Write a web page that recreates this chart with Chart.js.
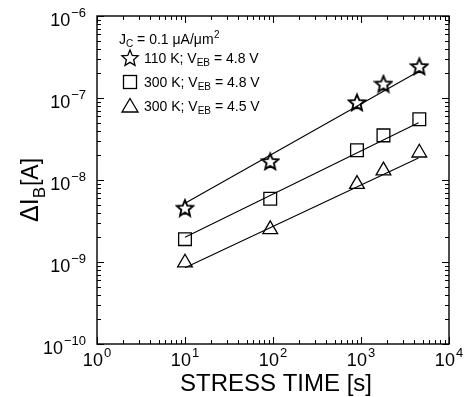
<!DOCTYPE html>
<html>
<head>
<meta charset="utf-8">
<script src="https://cdn.jsdelivr.net/npm/chart.js@4/dist/chart.umd.min.js"></script>
<style>
html,body{margin:0;padding:0;background:#fff;}
#wrap{width:467px;height:397px;position:relative;}
</style>
</head>
<body>
<div id="wrap"><canvas id="c" width="467" height="397"></canvas></div>
<script>
// ---- data ----
const stressTime = [10, 93, 900, 1800, 4600];
const star110K_48V = [4.6e-9, 1.7e-8, 8.9e-8, 1.5e-7, 2.45e-7];
const sq300K_48V = [1.9e-9, 5.9e-9, 2.3e-8, 3.5e-8, 5.5e-8];
const tri300K_45V = [9.8e-10, 2.5e-9, 8.9e-9, 1.3e-8, 2.15e-8];
const fitTime = [10, 4500];
const fitStar = [5.2e-9, 2.1e-7];
const fitSq = [2.0e-9, 5.0e-8];
const fitTri = [8.5e-10, 1.86e-8];
const xTickExps = [0, 1, 2, 3, 4];
const yTickExps = [-6, -7, -8, -9, -10];
const legendLabels = ["110 K; V", "300 K; V", "300 K; V"];
const legendTails = [" = 4.8 V", " = 4.8 V", " = 4.5 V"];

const FONT = "'Liberation Sans', Arial, sans-serif";

function starPath(ctx, cx, cy, R) {
  const r = R * 0.45;
  ctx.beginPath();
  for (let i = 0; i < 10; i++) {
    const a = -Math.PI / 2 + i * Math.PI / 5;
    const rad = i % 2 === 0 ? R : r;
    const px = cx + rad * Math.cos(a), py = cy + rad * Math.sin(a);
    if (i === 0) ctx.moveTo(px, py); else ctx.lineTo(px, py);
  }
  ctx.closePath();
}
function makeStar(size) {
  const cv = document.createElement('canvas');
  cv.width = size; cv.height = size;
  const g = cv.getContext('2d');
  g.strokeStyle = '#000'; g.lineWidth = 1.9;
  starPath(g, size / 2, size / 2 + 1, size / 2 - 1.5);
  g.stroke();
  return cv;
}
const starImg = makeStar(20);

function zip(xs, ys) { return xs.map((x, i) => ({x: x, y: ys[i]})); }

const pts = (data, style, r) => ({
  data: data, showLine: false, pointStyle: style, pointRadius: r,
  pointBorderColor: '#000', pointBackgroundColor: 'rgba(0,0,0,0)', pointBorderWidth: 1.3
});
const fit = (data) => ({
  data: data, showLine: true, pointRadius: 0, borderColor: '#000', borderWidth: 1.1, fill: false
});

function drawPow(ctx, x, y, exp, align, size) {
  ctx.font = size + "px " + FONT;
  const base = "10";
  const wb = ctx.measureText(base).width;
  const es = Math.round(size * 0.72);
  const et = String(exp).replace('-', '\u2212');
  ctx.font = es + "px " + FONT;
  const we = ctx.measureText(et).width;
  const total = wb + we + 1;
  let sx = align === 'center' ? x - total / 2 : x - total;
  ctx.font = size + "px " + FONT;
  ctx.textAlign = 'left'; ctx.textBaseline = 'alphabetic';
  ctx.fillText(base, sx, y);
  ctx.font = es + "px " + FONT;
  ctx.fillText(et, sx + wb + 1, y - size * 0.5);
}

const decor = {
  id: 'decor',
  afterDraw(chart) {
    const ctx = chart.ctx;
    const {left, right, top, bottom} = chart.chartArea;
    const xs = chart.scales.x, ys = chart.scales.y;
    ctx.save();
    ctx.strokeStyle = '#000'; ctx.fillStyle = '#000';
    ctx.lineWidth = 1.4;
    ctx.strokeRect(left, top, right - left, bottom - top);
    ctx.lineWidth = 1;
    for (let e = 0; e < 4; e++) {
      for (let m = 1; m <= 10; m++) {
        const v = m * Math.pow(10, e);
        const px = Math.round(xs.getPixelForValue(v)) + 0.5;
        const len = (m === 1 || m === 10) ? 7 : 4;
        ctx.beginPath();
        ctx.moveTo(px, bottom); ctx.lineTo(px, bottom - len);
        ctx.moveTo(px, top); ctx.lineTo(px, top + len);
        ctx.stroke();
      }
    }
    for (let e = -10; e < -6; e++) {
      for (let m = 1; m <= 10; m++) {
        const v = m * Math.pow(10, e);
        const py = Math.round(ys.getPixelForValue(v)) + 0.5;
        const len = (m === 1 || m === 10) ? 7 : 4;
        ctx.beginPath();
        ctx.moveTo(left, py); ctx.lineTo(left + len, py);
        ctx.moveTo(right, py); ctx.lineTo(right - len, py);
        ctx.stroke();
      }
    }
    xTickExps.forEach(e => {
      const px = xs.getPixelForValue(Math.pow(10, e));
      drawPow(ctx, px, bottom + 22, e, 'center', 18);
    });
    yTickExps.forEach(e => {
      const py = ys.getPixelForValue(Math.pow(10, e));
      drawPow(ctx, left - 11, py + 10, e, 'right', 18);
    });
    ctx.font = "24px " + FONT;
    ctx.textAlign = 'center'; ctx.textBaseline = 'alphabetic';
    ctx.fillText("STRESS TIME [s]", (left + right) / 2 + 3, 391);
    ctx.save();
    ctx.translate(38, 187);
    ctx.rotate(-Math.PI / 2);
    ctx.textAlign = 'left';
    let tx = -35;
    ctx.font = "25px " + FONT;
    ctx.fillText("\u0394I", tx, 0);
    tx += ctx.measureText("\u0394I").width;
    ctx.font = "17px " + FONT;
    ctx.fillText("B", tx, 7);
    tx += ctx.measureText("B").width + 1;
    ctx.font = "23px " + FONT;
    ctx.fillText("[A]", tx, 0);
    ctx.restore();
    ctx.textAlign = 'left';
    let lx = 119;
    ctx.font = "14px " + FONT;
    ctx.fillText("J", lx, 44); lx += ctx.measureText("J").width;
    ctx.font = "10px " + FONT; ctx.fillText("C", lx, 47); lx += ctx.measureText("C").width;
    const s1 = " = 0.1 \u03BCA/\u03BCm";
    ctx.font = "14px " + FONT; ctx.fillText(s1, lx, 44); lx += ctx.measureText(s1).width;
    ctx.font = "10px " + FONT; ctx.fillText("2", lx + 0.5, 38);
    const rowsY = [63, 87, 111];
    rowsY.forEach((yy, i) => {
      ctx.lineWidth = 1.3;
      const mx = 130, my = yy - 5;
      if (i === 0) {
        starPath(ctx, mx, my + 0.5, 8.5); ctx.stroke();
      } else if (i === 1) {
        ctx.strokeRect(mx - 6.5, my - 6.5, 13, 13);
      } else {
        ctx.beginPath();
        ctx.moveTo(mx, my - 7.5); ctx.lineTo(mx + 8, my + 6); ctx.lineTo(mx - 8, my + 6); ctx.closePath(); ctx.stroke();
      }
      let x0 = 144;
      ctx.font = "14px " + FONT; ctx.fillText(legendLabels[i], x0, yy); x0 += ctx.measureText(legendLabels[i]).width;
      ctx.font = "10px " + FONT; ctx.fillText("EB", x0, yy + 3); x0 += ctx.measureText("EB").width;
      ctx.font = "14px " + FONT; ctx.fillText(legendTails[i], x0, yy);
    });
    ctx.restore();
  }
};

new Chart(document.getElementById('c'), {
  type: 'scatter',
  data: {
    datasets: [
      fit(zip(fitTime, fitStar)),
      fit(zip(fitTime, fitSq)),
      fit(zip(fitTime, fitTri)),
      pts(zip(stressTime, star110K_48V), starImg, 10),
      pts(zip(stressTime, sq300K_48V), 'rect', 9),
      pts(zip(stressTime, tri300K_45V), 'triangle', 8.5)
    ]
  },
  options: {
    responsive: false, animation: false, devicePixelRatio: 1,
    layout: {padding: {left: 97, top: 16, right: 18, bottom: 53}},
    plugins: {legend: {display: false}, tooltip: {enabled: false}},
    scales: {
      x: {type: 'logarithmic', min: 1, max: 10000, display: false},
      y: {type: 'logarithmic', min: 1e-10, max: 1e-6, display: false}
    }
  },
  plugins: [decor]
});
</script>
</body>
</html>
